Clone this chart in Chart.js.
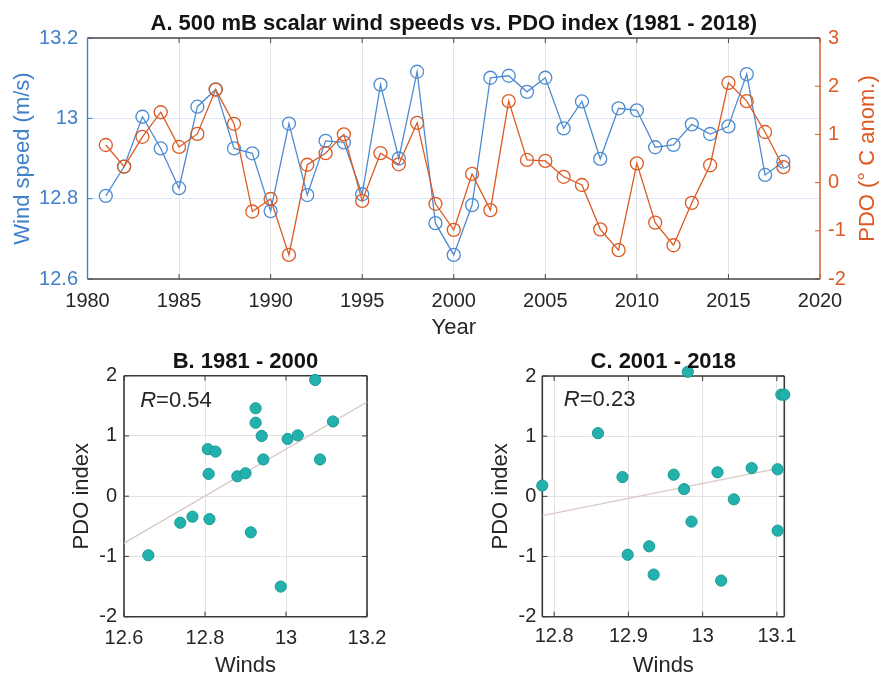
<!DOCTYPE html>
<html>
<head>
<meta charset="utf-8">
<script src="https://cdn.jsdelivr.net/npm/chart.js@4.4.0/dist/chart.umd.min.js"></script>
<style>
html, body { margin:0; padding:0; background:#fff; overflow:hidden; width:893px; height:675px; }
canvas { position:absolute; left:0; top:0; }
</style>
</head>
<body>
<canvas id="chartA" width="893" height="690"></canvas>
<canvas id="chartB" width="893" height="690"></canvas>
<canvas id="chartC" width="893" height="690"></canvas>
<script>
// ---- data ----
const years = [1981,1982,1983,1984,1985,1986,1987,1988,1989,1990,
               1991,1992,1993,1994,1995,1996,1997,1998,1999,2000,
               2001,2002,2003,2004,2005,2006,2007,2008,2009,2010,
               2011,2012,2013,2014,2015,2016,2017,2018];
const winds = [12.807,12.880,13.004,12.925,12.826,13.029,13.072,12.925,12.913,12.769,
               12.987,12.809,12.944,12.940,12.811,13.084,12.900,13.116,12.739,12.660,
               12.784,13.101,13.106,13.066,13.101,12.975,13.042,12.899,13.025,13.020,
               12.928,12.934,12.985,12.961,12.980,13.110,12.859,12.892];
const pdo   = [0.78,0.33,0.95,1.46,0.74,1.01,1.93,1.22,-0.60,-0.34,
               -1.50,0.37,0.61,1.00,-0.38,0.61,0.38,1.24,-0.44,-0.98,
               0.18,-0.57,1.69,0.47,0.45,0.12,-0.05,-0.97,-1.40,0.40,
               -0.83,-1.30,-0.42,0.36,2.07,1.69,1.05,0.32];
const splitAt = 20; // 1981-2000 | 2001-2018

// tick labels
const yearTicks = [1980,1985,1990,1995,2000,2005,2010,2015,2020];
const windTicks = [12.6,12.8,13,13.2];
const pdoTicks = [-2,-1,0,1,2,3];
const pdoTicksSc = [-2,-1,0,1,2];
const windTicksB = [12.6,12.8,13,13.2];
const windTicksC = [12.8,12.9,13,13.1];

const FONT = '"Liberation Sans", Arial, Helvetica, sans-serif';
const BLUE = '#3f80c9';
const BLUE_LINE = '#4d8bd1';
const ORANGE = '#dc5b24';
const TEAL = '#22b1ac';
const INK = '#262626';
Chart.defaults.font.family = FONT;

const setTicks = arr => s => { s.ticks = arr.map(v => ({ value: v })); };
const fmt = v => String(+(+v).toFixed(3));

// box + inward tick marks, MATLAB style; titles centred on the axes box
const framePlugin = {
  id: 'frame',
  beforeDatasetsDraw(chart, args, o) {
    const { ctx, chartArea: a } = chart;
    const L = 5;
    ctx.save();
    ctx.lineWidth = 1;
    const seg = (x1, y1, x2, y2) => { ctx.beginPath(); ctx.moveTo(x1, y1); ctx.lineTo(x2, y2); ctx.stroke(); };
    const xs = chart.scales.x;
    ctx.strokeStyle = o.xColor;
    xs.ticks.forEach(t => {
      const p = xs.getPixelForValue(t.value);
      seg(p, a.top, p, a.top + L);
      seg(p, a.bottom, p, a.bottom - L);
    });
    const yl = chart.scales[o.yL];
    yl.ticks.forEach(t => {
      const p = yl.getPixelForValue(t.value);
      ctx.strokeStyle = o.leftColor;
      seg(a.left, p, a.left + L, p);
      if (!o.yR) { ctx.strokeStyle = o.rightColor; seg(a.right, p, a.right - L, p); }
    });
    if (o.yR) {
      const yr = chart.scales[o.yR];
      ctx.strokeStyle = o.rightColor;
      yr.ticks.forEach(t => {
        const p = yr.getPixelForValue(t.value);
        seg(a.right, p, a.right - L, p);
      });
    }
    ctx.lineWidth = o.width || 1.4;
    ctx.strokeStyle = o.xColor;
    seg(a.left, a.top, a.right, a.top);
    seg(a.left, a.bottom, a.right, a.bottom);
    ctx.strokeStyle = o.leftColor;
    seg(a.left, a.top, a.left, a.bottom);
    ctx.strokeStyle = o.rightColor;
    seg(a.right, a.top, a.right, a.bottom);
    ctx.restore();
  },
  afterDraw(chart, args, o) {
    const { ctx, chartArea: a } = chart;
    ctx.save();
    if (o.title) {
      ctx.fillStyle = '#141414';
      ctx.font = 'bold 22px ' + FONT;
      ctx.textAlign = 'center';
      ctx.textBaseline = 'middle';
      ctx.fillText(o.title.text, (a.left + a.right) / 2, o.title.y);
    }
    if (o.rightTitle) {
      ctx.translate(o.rightTitle.x, (a.top + a.bottom) / 2);
      ctx.rotate(-Math.PI / 2);
      ctx.fillStyle = o.rightTitle.color;
      ctx.font = '22px ' + FONT;
      ctx.textAlign = 'center';
      ctx.textBaseline = 'middle';
      ctx.fillText(o.rightTitle.text, 0, 0);
      ctx.setTransform(1, 0, 0, 1, 0, 0);
    }
    if (o.rLabel) {
      const x = chart.scales.x.getPixelForValue(o.rLabel.x);
      const y = chart.scales.y.getPixelForValue(o.rLabel.y);
      ctx.fillStyle = INK;
      ctx.textBaseline = 'middle';
      ctx.textAlign = 'left';
      ctx.font = 'italic 22px ' + FONT;
      ctx.fillText('R', x, y);
      const w = ctx.measureText('R').width;
      ctx.font = '22px ' + FONT;
      ctx.fillText('=' + o.rLabel.text, x + w, y);
    }
    ctx.restore();
  }
};

// ---- A: time series ----
new Chart(document.getElementById('chartA'), {
  type: 'line',
  data: {
    datasets: [
      {
        data: years.map((yr, i) => ({ x: yr, y: pdo[i] })),
        yAxisID: 'yR',
        borderColor: ORANGE, borderWidth: 1.3,
        pointRadius: 6.5, pointBorderWidth: 1.3,
        pointBorderColor: ORANGE, pointBackgroundColor: 'rgba(0,0,0,0)',
        tension: 0, clip: false
      },
      {
        data: years.map((yr, i) => ({ x: yr, y: winds[i] })),
        yAxisID: 'yL',
        borderColor: BLUE_LINE, borderWidth: 1.3,
        pointRadius: 6.5, pointBorderWidth: 1.3,
        pointBorderColor: BLUE_LINE, pointBackgroundColor: 'rgba(0,0,0,0)',
        tension: 0, clip: false
      }
    ]
  },
  options: {
    responsive: false, animation: false, events: [],
    layout: { padding: { left: 0, right: 0, top: 38, bottom: 345 } },
    plugins: {
      legend: { display: false }, tooltip: { enabled: false },
      frame: {
        xColor: '#4a4a4a', leftColor: BLUE, rightColor: ORANGE, yL: 'yL', yR: 'yR',
        title: { text: 'A. 500 mB scalar wind speeds vs. PDO index (1981 - 2018)', y: 23.5 },
        rightTitle: { text: 'PDO (° C anom.)', x: 868, color: ORANGE }
      }
    },
    scales: {
      x: {
        type: 'linear', position: 'bottom', min: 1980, max: 2020,
        afterBuildTicks: setTicks(yearTicks), afterFit: s => { s.height = 66; },
        grid: { color: '#e4e4e4', drawTicks: false }, border: { display: false },
        ticks: { color: INK, font: { size: 20 }, padding: 10.7, autoSkip: false, maxRotation: 0, callback: v => String(v) },
        title: { display: true, text: 'Year', color: INK, font: { size: 22 }, padding: { top: 0, bottom: 3.8 } }
      },
      yL: {
        type: 'linear', position: 'left', min: 12.6, max: 13.2,
        afterBuildTicks: setTicks(windTicks), afterFit: s => { s.width = 87.5; },
        grid: { color: '#dce8f5', drawTicks: false }, border: { display: false },
        ticks: { color: BLUE, font: { size: 20 }, padding: 9.5, autoSkip: false, callback: fmt },
        title: { display: true, text: 'Wind speed (m/s)', color: BLUE, font: { size: 22 }, padding: { top: 9.8, bottom: 0 } }
      },
      yR: {
        type: 'linear', position: 'right', min: -2, max: 3,
        afterBuildTicks: setTicks(pdoTicks), afterFit: s => { s.width = 73; },
        grid: { display: false, drawTicks: false }, border: { display: false },
        ticks: { color: ORANGE, font: { size: 20 }, padding: 8, autoSkip: false, callback: fmt }
      }
    }
  },
  plugins: [framePlugin]
});

// ---- B / C: scatter with least-squares line ----
function lsFit(xs, ys) {
  const n = xs.length;
  const mx = xs.reduce((a, b) => a + b, 0) / n;
  const my = ys.reduce((a, b) => a + b, 0) / n;
  let sxy = 0, sxx = 0;
  for (let i = 0; i < n; i++) { sxy += (xs[i] - mx) * (ys[i] - my); sxx += (xs[i] - mx) ** 2; }
  const b = sxy / sxx;
  return x => my + b * (x - mx);
}

function scatterChart(id, cfg) {
  const f = lsFit(cfg.xs, cfg.ys);
  return new Chart(document.getElementById(id), {
    type: 'scatter',
    data: {
      datasets: [
        {
          data: cfg.xs.map((x, i) => ({ x: x, y: cfg.ys[i] })),
          pointRadius: 5.6, pointBorderWidth: 1,
          pointBackgroundColor: TEAL, pointBorderColor: '#1a9994', clip: false
        },
        {
          type: 'line',
          data: [cfg.xMin, cfg.xMax].map(x => ({ x: x, y: f(x) })),
          borderColor: '#d9c8c4', borderWidth: 1.3, pointRadius: 0, tension: 0
        }
      ]
    },
    options: {
      responsive: false, animation: false, events: [],
      layout: { padding: cfg.pad },
      plugins: {
        legend: { display: false }, tooltip: { enabled: false },
        frame: {
          xColor: '#3a3a3a', leftColor: '#3a3a3a', rightColor: '#3a3a3a', yL: 'y', width: 1.6,
          title: { text: cfg.title, y: 362 },
          rLabel: cfg.rLabel
        }
      },
      scales: {
        x: {
          type: 'linear', min: cfg.xMin, max: cfg.xMax,
          afterBuildTicks: setTicks(cfg.xTicks), afterFit: s => { s.height = 68.3; },
          grid: { color: '#e2e2e2', drawTicks: false }, border: { display: false },
          ticks: { color: INK, font: { size: 20 }, padding: cfg.xPad, autoSkip: false, maxRotation: 0, callback: fmt },
          title: { display: true, text: 'Winds', color: INK, font: { size: 22 }, padding: { top: 0, bottom: 6.3 } }
        },
        y: {
          type: 'linear', min: -2, max: 2,
          afterBuildTicks: setTicks(pdoTicksSc), afterFit: s => { s.width = cfg.yWidth; },
          grid: { color: '#e2e2e2', drawTicks: false }, border: { display: false },
          ticks: { color: INK, font: { size: 20 }, padding: cfg.yPad, autoSkip: false, callback: fmt },
          title: { display: true, text: 'PDO index', color: INK, font: { size: 22 }, padding: { top: cfg.yTitlePad, bottom: 0 } }
        }
      }
    },
    plugins: [framePlugin]
  });
}

const windsB = winds.slice(0, splitAt), pdoB = pdo.slice(0, splitAt);
const windsC = winds.slice(splitAt), pdoC = pdo.slice(splitAt);

scatterChart('chartB', {
  title: 'B. 1981 - 2000', xs: windsB, ys: pdoB,
  xMin: 12.6, xMax: 13.2, xTicks: windTicksB,
  pad: { left: 0, right: 526, top: 375.7, bottom: 5 },
  yWidth: 124, yPad: 7, xPad: 9.5, yTitlePad: 68.8,
  rLabel: { x: 12.64, y: 1.585, text: '0.54' }
});

scatterChart('chartC', {
  title: 'C. 2001 - 2018', xs: windsC, ys: pdoC,
  xMin: Math.min(...windsC), xMax: Math.max(...windsC), xTicks: windTicksC,
  pad: { left: 440, right: 108.7, top: 376, bottom: 5 },
  yWidth: 102.3, yPad: 6, xPad: 8, yTitlePad: 47.8,
  rLabel: { x: 12.813, y: 1.60, text: '0.23' }
});
</script>
</body>
</html>
